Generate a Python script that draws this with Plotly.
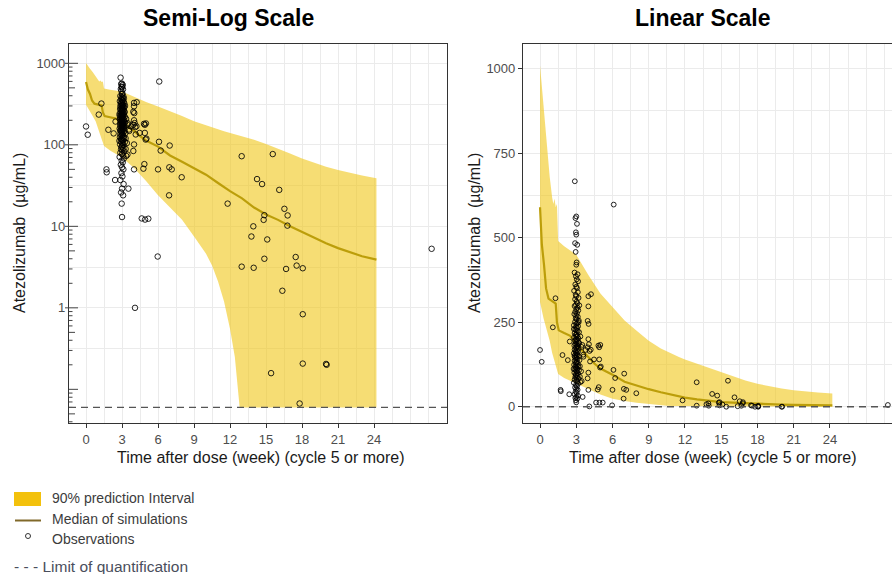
import math
import plotly.graph_objects as go

# ---------------------------------------------------------------------------
# Data
# ---------------------------------------------------------------------------
LOQ = 0.06  # limit of quantification (ug/mL)

# Simulated median and 90% prediction interval (time in weeks after dose)
band_t = [0.0, 0.15, 0.3, 0.55, 0.8, 1.0, 1.1, 1.2, 1.3, 1.4, 1.5, 2.0, 3.0, 4.0,
          5.0, 6.0, 7.0, 8.0, 9.0, 10.0, 10.5, 11.0, 11.5, 12.0, 12.4, 12.8, 13.0,
          14.0, 15.0, 16.0, 17.0, 18.0, 19.0, 20.0, 21.0, 22.0, 23.0, 24.2]
band_upper = [1010, 950, 870, 780, 680, 620, 600, 615, 590, 600, 490, 475, 450, 390,
              335, 295, 255, 225, 195, 172, 163, 155, 147, 140, 135, 130, 128,
              115, 102, 90, 78, 68, 60, 54, 49, 45, 42, 39]
band_lower = [310, 285, 260, 225, 195, 160, 145, 130, 118, 110, 97, 85, 70, 52,
              36, 24, 17, 12, 7.5, 4.6, 3.3, 2.1, 1.2, 0.55, 0.25, 0.06, 0.06,
              0.06, 0.06, 0.06, 0.06, 0.06, 0.06, 0.06, 0.06, 0.06, 0.06, 0.06]

med_t = [0.0, 0.15, 0.33, 0.5, 0.7, 1.0, 1.3, 1.4, 1.55, 2.0, 2.5, 3.0, 3.5, 4.0,
         4.5, 5.0, 6.0, 7.0, 8.0, 9.0, 10.0, 11.0, 12.0, 13.0, 14.0, 15.0, 16.0,
         17.0, 18.0, 19.0, 20.0, 21.0, 22.0, 23.0, 24.2]
med_conc = [590, 480, 420, 350, 320, 312, 305, 250, 226, 218, 210, 185, 165, 148,
            128, 113, 95, 74, 62, 52, 43, 34, 27, 22, 17, 14, 12,
            10, 8.5, 7.2, 6.2, 5.4, 4.8, 4.3, 3.9]

# Observed concentrations: trough samples around week 3
trough_t = [2.88, 3.0, 2.93, 3.06, 2.97, 3.0, 2.9, 3.08, 2.95, 3.03,
            3.0, 2.86, 3.11, 2.97, 3.04, 3.15, 2.92, 3.0, 3.06, 2.82,
            3.13, 2.95, 3.0, 3.19, 2.9, 3.03, 3.09, 2.97, 2.86, 3.11,
            3.0, 3.17, 2.92, 3.06, 2.84, 3.0, 3.13, 2.95, 3.03, 3.21,
            2.9, 3.09, 3.0, 2.8, 3.15, 2.97, 3.06, 2.92, 3.0, 3.11,
            3.23, 2.86, 3.03, 2.95, 3.09, 3.0, 2.82, 3.17, 2.97, 3.06,
            2.9, 3.13, 3.0, 3.25, 2.92, 3.03, 2.84, 3.11, 2.97, 3.0,
            3.19, 2.86, 3.06, 2.95, 3.15, 3.0, 2.8, 3.09, 2.92, 3.03,
            3.21, 2.9, 3.0, 3.11, 2.97, 3.27, 2.86, 3.06, 3.0, 2.95,
            3.13, 2.82, 3.03, 3.17, 2.92, 3.0, 3.09, 2.9, 3.23, 2.97,
            3.06, 2.84, 3.13, 3.0, 2.95, 3.11, 2.92, 3.03, 3.19, 2.86,
            3.0, 3.09, 2.8, 3.15, 2.97, 3.06, 2.9, 3.0, 3.11, 2.95,
            3.03, 2.86, 3.13, 3.0, 2.92, 3.09, 2.97, 3.0]
trough_conc = [667, 563, 558, 541, 516, 509, 484, 479, 458, 427,
               420, 397, 392, 386, 377, 371, 362, 355, 351, 343,
               339, 331, 327, 322, 318, 311, 306, 301, 298, 293,
               289, 285, 281, 277, 274, 270, 266, 262, 259, 255,
               251, 247, 245, 241, 238, 236, 233, 229, 226, 224,
               221, 218, 215, 213, 210, 208, 205, 203, 200, 198,
               196, 193, 191, 188, 186, 184, 181, 179, 176, 174,
               172, 169, 167, 165, 163, 160, 158, 156, 154, 151,
               149, 147, 145, 142, 140, 138, 136, 133, 131, 129,
               127, 124, 122, 120, 118, 115, 113, 111, 108, 106,
               104, 101, 99, 96, 94, 91, 88, 86, 83, 80,
               77, 74, 71, 68, 64, 61, 57, 53, 50, 45,
               41, 37, 33, 29, 26, 24, 19, 13]

# Observed concentrations at other sampling times
other_t = [0.0, 0.14, 1.06, 1.28, 1.86, 1.7, 1.72, 2.42, 2.46, 2.3, 2.8, 2.85, 2.78,
           3.2, 3.25, 3.34, 3.44, 3.5, 3.58, 3.6, 3.77, 3.3, 3.4, 3.3, 3.35, 3.45, 3.53, 3.2,
           4.0, 4.22, 4.0, 3.94, 4.02, 4.0, 4.05, 3.95, 4.1, 4.14, 4.0, 3.94, 4.0, 4.08, 4.2,
           4.47, 4.64, 4.78, 4.83, 4.86, 4.9, 4.92, 4.97, 4.99, 5.03, 5.19, 4.9,
           5.97, 6.0, 6.1, 6.08, 6.22, 6.97, 6.94, 7.14, 6.92, 7.97,
           11.8, 12.97, 15.56, 14.25, 14.67, 16.1, 14.86, 14.8, 16.53, 16.8, 16.78,
           13.94, 13.78, 15.1, 28.8, 12.97, 13.97, 14.86, 17.47, 17.55, 16.67, 18.06,
           16.36, 18.06, 18.06, 20.0, 20.05, 15.42, 17.8]
other_conc = [168, 133, 235, 321, 153, 50, 46, 37, 193, 138, 230, 150, 112,
              250, 300, 208, 177, 183, 154, 148, 168, 120, 105, 89, 73, 76, 29, 190,
              327, 333, 297, 254, 245, 200, 185, 176, 165, 134, 101, 84, 50, 1.0, 169,
              140, 12.5, 51, 181, 58, 176, 12.1, 116, 183, 119, 12.4, 140,
              4.26, 50, 598, 109, 85, 98, 53, 50, 24, 40,
              19, 72.5, 77, 38, 33, 28, 13.7, 12, 16.4, 13.6, 10.2,
              10, 7.5, 6.9, 5.3, 3.2, 3.1, 4.0, 4.2, 3.3, 3.0, 3.06,
              1.62, 0.835, 0.207, 0.205, 0.2, 0.158, 0.067]

obs_t = trough_t + other_t
obs_conc = trough_conc + other_conc

x_ticks = list(range(0, 25, 3))
log_ticks = [1, 10, 100, 1000]
lin_ticks = [0, 250, 500, 750, 1000]

# ---------------------------------------------------------------------------
# Styling
# ---------------------------------------------------------------------------
W, H = 892, 574
FONT = "Liberation Sans, Arial, sans-serif"
BAND = "rgba(240,200,30,0.62)"
MEDIAN = "#BC9E0A"
GRID = "#EBEBEB"
BORDER = "#333333"
TICKTXT = "#4D4D4D"
LOG_RANGE = [-1.413, 3.237]


def px(x):
    return x / W


def py(y):
    return 1 - y / H


y_dom = [py(423), py(44)]
LOG_PANEL_W = 447 - 69

fig = go.Figure()

for xa, ya, msize in (("x", "y", 5.5), ("x2", "y2", 4.8)):
    fig.add_trace(go.Scatter(
        x=band_t + band_t[::-1], y=band_upper + band_lower[::-1],
        fill="toself", fillcolor=BAND, line=dict(width=0), mode="lines",
        hoverinfo="skip", showlegend=False, xaxis=xa, yaxis=ya))
    fig.add_trace(go.Scatter(
        x=med_t, y=med_conc, mode="lines",
        line=dict(color=MEDIAN, width=2.2), showlegend=False, xaxis=xa, yaxis=ya))
    fig.add_trace(go.Scatter(
        x=obs_t, y=obs_conc, mode="markers",
        marker=dict(symbol="circle-open", size=msize, color="rgba(0,0,0,0.85)",
                    line=dict(width=1)),
        showlegend=False, xaxis=xa, yaxis=ya))

# log ticks along the left border of the log panel (decades also reach outside)
for k in (-2, -1, 0, 1, 2, 3):
    for m in range(1, 10):
        v = m * 10 ** k
        if not (10 ** LOG_RANGE[0] <= v <= 10 ** LOG_RANGE[1]):
            continue
        inner = 9 if m == 1 else (6 if m == 5 else 3.5)
        outer = 4 if (m == 1 and v in log_ticks) else 0
        fig.add_shape(type="line", xref="x domain", x0=-outer / LOG_PANEL_W,
                      x1=inner / LOG_PANEL_W, yref="y", y0=v, y1=v, layer="above",
                      line=dict(color="#444444", width=1))

# limit of quantification
for xr, yr in (("x domain", "y"), ("x2 domain", "y2")):
    fig.add_shape(type="line", xref=xr, x0=0, x1=1, yref=yr, y0=LOQ, y1=LOQ,
                  line=dict(color="#555555", width=1.4, dash="7px,5px"))

tickfont = dict(family=FONT, size=13, color=TICKTXT)
common_x = dict(
    tickvals=x_ticks, ticks="outside", ticklen=4, tickcolor=BORDER, tickwidth=1,
    showline=True, linecolor=BORDER, linewidth=1.2, mirror=True,
    showgrid=True, gridcolor=GRID, gridwidth=1, zeroline=False,
    minor=dict(dtick=1.5, tick0=0, showgrid=True, gridcolor=GRID, gridwidth=1, ticks=""),
    tickfont=tickfont)

# log panel: labelled decades plus unlabelled half-decade grid lines
log_grid = sorted(log_ticks + [10 ** (k + 0.5) for k in (-1, 0, 1, 2)])
log_text = [str(v) if v in log_ticks else "" for v in log_grid]

fig.update_layout(
    width=W, height=H, margin=dict(l=0, r=0, t=0, b=0),
    paper_bgcolor="white", plot_bgcolor="white",
    font=dict(family=FONT),
    xaxis=dict(domain=[px(69), px(447)], range=[-1.42, 30.08], anchor="y", **common_x),
    yaxis=dict(domain=y_dom, type="log", range=LOG_RANGE, anchor="x",
               tickvals=log_grid, ticktext=log_text, ticks="",
               showline=True, linecolor=BORDER, linewidth=1.2, mirror=True,
               showgrid=True, gridcolor=GRID, zeroline=False, tickfont=tickfont),
    xaxis2=dict(domain=[px(523), 1.0], range=[-1.41, 29.14], anchor="y2", **common_x),
    yaxis2=dict(domain=y_dom, range=[-48, 1073], anchor="x2",
                tickvals=lin_ticks, ticks="outside", ticklen=4, tickcolor=BORDER,
                showline=True, linecolor=BORDER, linewidth=1.2, mirror=False,
                showgrid=True, gridcolor=GRID, zeroline=False, tickfont=tickfont,
                minor=dict(dtick=125, tick0=0, showgrid=True, gridcolor=GRID, ticks="")),
)

annotations = []


def text(x, y, s, size, color="#000000", xanchor="center", angle=0):
    annotations.append(dict(
        x=px(x), y=py(y), xref="paper", yref="paper", text=s, showarrow=False,
        xanchor=xanchor, yanchor="middle", textangle=angle,
        font=dict(family=FONT, size=size, color=color)))


# panel titles
text(228, 18, "<b>Semi-Log Scale</b>", 23)
text(703, 18, "<b>Linear Scale</b>", 23)
# axis titles
xt = "Time after dose (week) (cycle 5 or more)"
yt = "Atezolizumab  (µg/mL)"
text(260, 457, xt, 16, "#1A1A1A")
text(712, 457, xt, 16, "#1A1A1A")
text(19, 233, yt, 16, "#1A1A1A", angle=-90)
text(474, 233, yt, 16, "#1A1A1A", angle=-90)

# legend
text(50, 498, "90% prediction Interval", 14, "#3C3C3C", xanchor="left")
text(50, 519, "Median of simulations", 14, "#3C3C3C", xanchor="left")
text(50, 539, "Observations", 14, "#3C3C3C", xanchor="left")
text(12, 566, "- - - Limit of quantification", 15.5, "#4A4E5C", xanchor="left")

fig.update_layout(annotations=annotations)

legend_shapes = [
    dict(type="rect", xref="paper", yref="paper", x0=px(14), x1=px(41),
         y0=py(506), y1=py(492), fillcolor="#F3C10C", line=dict(width=0)),
    dict(type="line", xref="paper", yref="paper", x0=px(15), x1=px(41),
         y0=py(520.5), y1=py(520.5), line=dict(color="#80692A", width=2)),
    dict(type="circle", xref="paper", yref="paper", x0=px(25.5), x1=px(30.5),
         y0=py(538.5), y1=py(533.5), line=dict(color="#333333", width=1)),
]
for s in legend_shapes:
    fig.add_shape(**s)

fig.write_html("out.html")
